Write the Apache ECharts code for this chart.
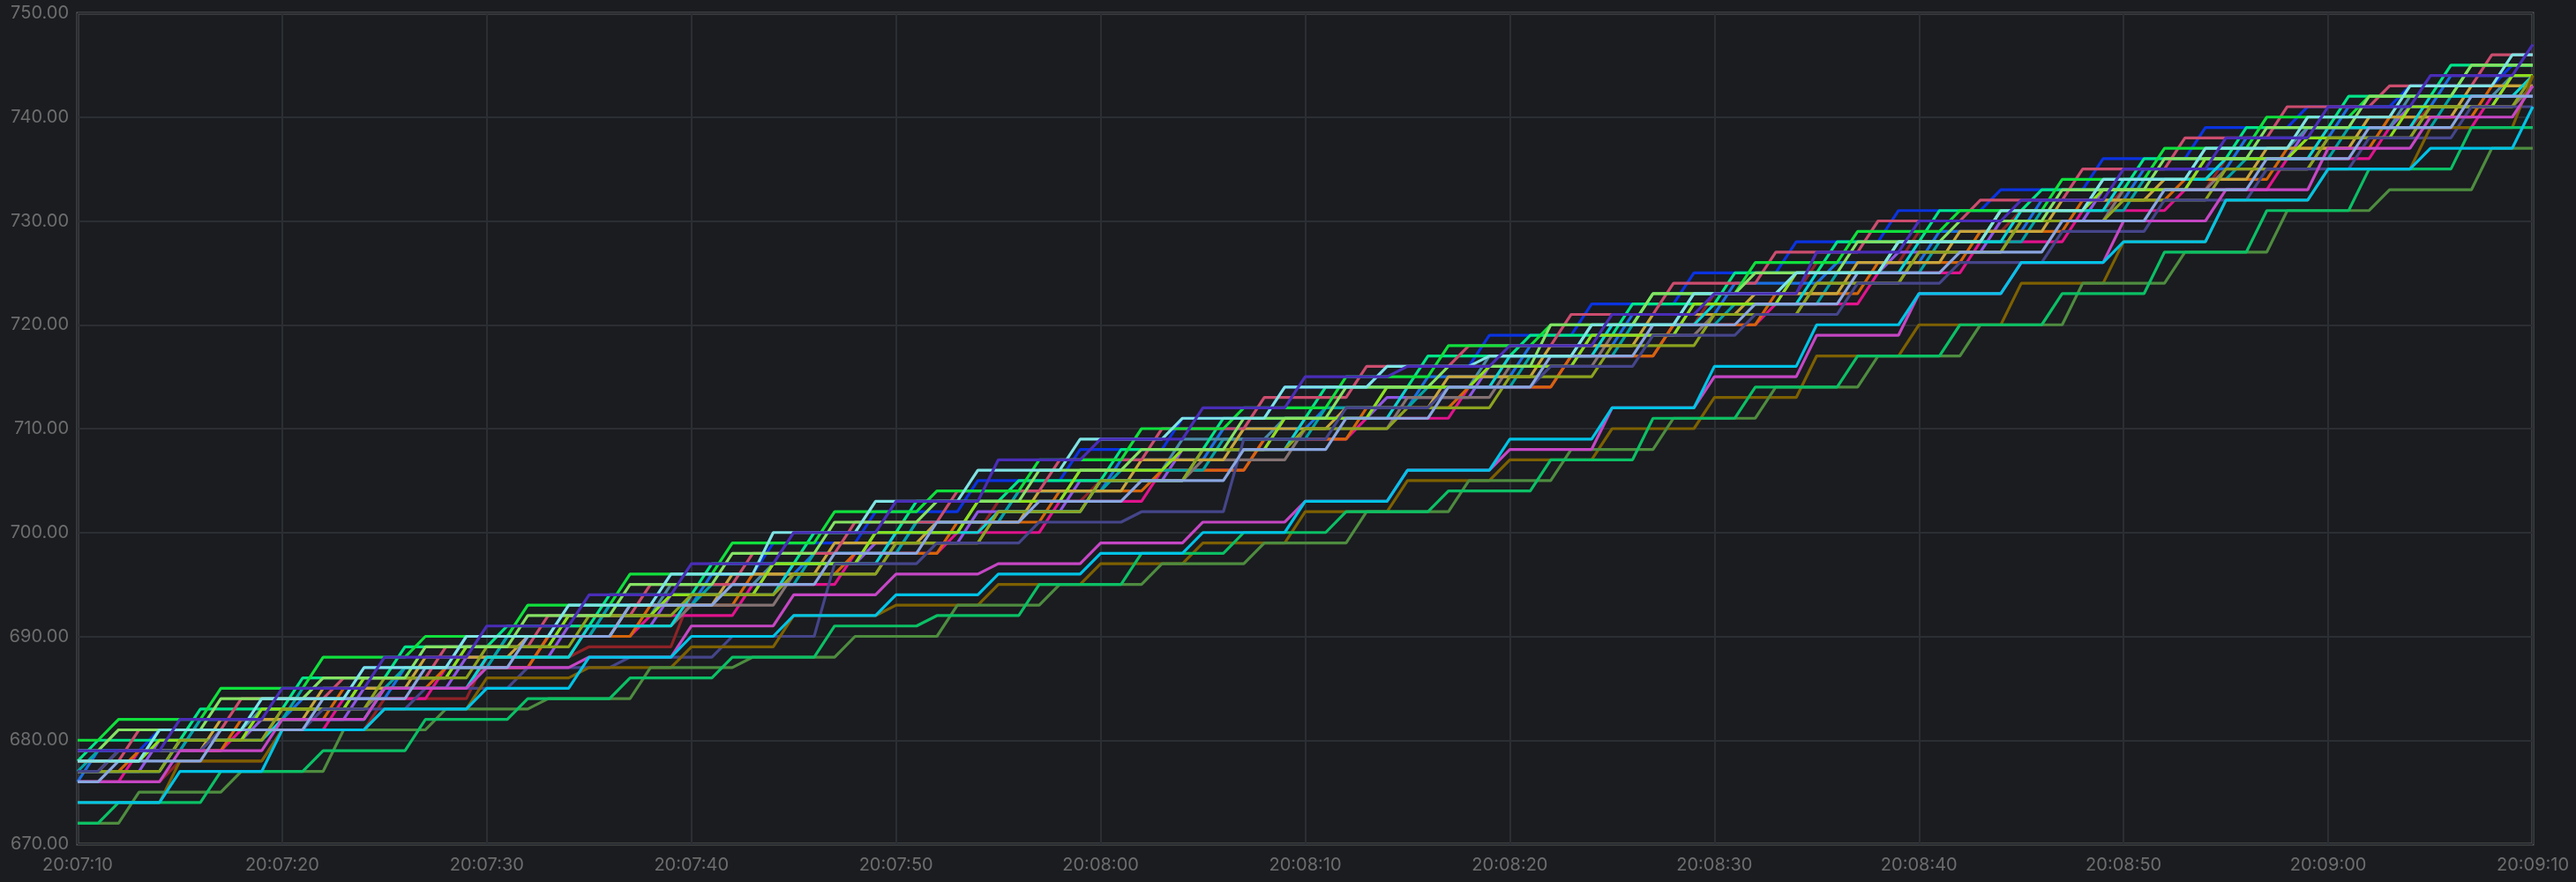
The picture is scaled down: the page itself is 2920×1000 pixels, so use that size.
<!DOCTYPE html>
<html>
<head>
<meta charset="utf-8">
<script src="https://cdn.jsdelivr.net/npm/echarts@6/dist/echarts.min.js"></script>
<style>
  html, body { margin: 0; padding: 0; background: #1a1c20; }
  #chart { width: 2920px; height: 1000px; }
</style>
</head>
<body>
<div id="chart"></div>
<script>
// x = seconds after 20:07:10, counter levels.
// every series holds a level for 5 s and climbs in 1 s;
// phase = second of the first climb, levels = one value per 5 s block
const startClock = [20, 7, 10];
const xTicks = [0, 10, 20, 30, 40, 50, 60, 70, 80, 90, 100, 110, 120];
const yTicks = [670, 680, 690, 700, 710, 720, 730, 740, 750];

const greenLevels = [672,674,677,679,682,684,686,688,691,692,695,698,700,702,704,707,711,714,717,720,723,727,731,735,739];
const darkGreenLevels = [672,675,677,681,683,684,687,688,690,693,695,697,699,702,705,708,711,714,717,720,724,727,731,733,737];
const brownLevels = [674,678,681,683,686,687,689,692,693,695,697,699,702,705,707,710,713,717,720,724,728,732,735,739,744];
const cyanLevels = [674,677,681,683,685,688,690,692,694,696,698,700,703,706,709,712,716,720,723,726,728,732,735,737,741];
const magentaLevels = [676,679,682,685,687,688,691,694,696,697,699,701,703,706,708,712,715,719,723,726,730,733,737,740,743];
const indigoLevels = [679,682,685,688,691,694,697,700,703,707,709,712,715,716,718,721,723,727,730,732,735,738,741,744,747];
const lavenderLevels = [676,678,681,684,687,690,693,695,698,701,703,705,708,711,714,717,720,722,725,727,730,733,736,739,742];
const slateLevels = [677,679,681,683,685,687,688,690,697,699,701,702,709,712,714,716,719,721,724,726,729,732,735,738,741];
const oliveLevels = [677,680,683,686,689,692,694,696,699,702,705,708,710,712,715,718,721,724,727,730,732,735,738,741,744];
const paleCyanLevels = [678,681,684,687,690,693,696,700,703,706,709,711,714,716,717,720,723,725,728,731,734,737,740,743,746];
const paleGreenLevels = [679,681,684,686,689,692,695,698,701,703,706,708,711,714,716,720,723,725,728,730,733,736,739,742,745];
const crimsonLevels = [678,681,684,686,689,692,695,698,701,704,707,710,713,716,718,721,724,727,730,732,735,738,741,743,746];
const limeLevels = [680,682,685,688,690,693,696,699,702,704,707,710,712,715,718,720,723,726,729,731,734,737,740,742,745];
const taupeLevels = [677,680,683,685,688,691,693,696,699,702,705,707,710,713,716,719,721,724,727,730,733,735,738,741,743];
const tealLevels = [677,679,682,685,687,690,693,695,698,701,704,706,709,712,714,717,720,722,725,728,731,734,736,739,742];
const orangeLevels = [677,679,682,685,687,690,693,696,698,701,704,706,709,712,714,717,720,723,726,729,732,734,737,740,743];
const yellowGreenLevels = [678,680,683,686,689,692,694,697,700,703,706,708,711,714,716,719,722,725,728,731,733,736,738,741,744];
const blueLevels = [676,679,682,684,687,690,693,696,698,701,704,707,710,712,715,718,721,724,726,729,732,735,738,741,744];
const violetLevels = [677,680,682,685,688,691,694,697,699,702,705,708,711,713,716,719,722,725,727,730,733,736,739,741,744];
const pinkLevels = [676,679,681,684,687,690,692,695,698,700,703,706,709,711,714,717,720,722,725,728,731,733,736,739,742];
const steelLevels = [678,681,683,686,689,692,695,697,700,703,706,709,711,714,717,720,723,725,728,731,734,737,739,742,744];
const goldLevels = [677,679,682,685,688,690,693,696,699,701,704,707,710,712,715,718,721,723,726,729,732,734,737,740,743];
const springLevels = [678,680,683,686,689,691,694,697,700,703,705,708,711,714,717,719,722,725,728,731,733,736,739,742,745];
const darkRedLevels = [676,678,681,684,688,689,694,697,700,703,705,708,711,714,717,720,723,726,729,731,733,736,739,741,743];
const royalLevels = [679,681,684,687,690,693,696,699,702,705,708,711,714,716,719,722,725,728,731,733,736,739,741,743,745];
const turquoiseLevels = [677,680,682,685,688,691,694,697,700,702,705,708,711,714,717,720,722,725,728,731,734,736,739,742,744];

const seriesList = [
  { color: '#8e2327', phase: 5, levels: darkRedLevels },
  { color: '#e0138c', phase: 3, levels: pinkLevels },
  { color: '#0a33e0', phase: 4, levels: royalLevels },
  { color: '#1a6fe0', phase: 1, levels: blueLevels },
  { color: '#8f55e3', phase: 4, levels: violetLevels },
  { color: '#d4650a', phase: 3, levels: orangeLevels },
  { color: '#00a3a3', phase: 1, levels: tealLevels },
  { color: '#847272', phase: 5, levels: taupeLevels },
  { color: '#4a89a6', phase: 4, levels: steelLevels },
  { color: '#c8a53c', phase: 2, levels: goldLevels },
  { color: '#00e58a', phase: 1, levels: springLevels },
  { color: '#0ad4d4', phase: 5, levels: turquoiseLevels },
  { color: '#8ee01c', phase: 4, levels: yellowGreenLevels },
  { color: '#cc4d6e', phase: 3, levels: crimsonLevels },
  { color: '#10e03c', phase: 2, levels: limeLevels },
  { color: '#8ca31f', phase: 5, levels: oliveLevels },
  { color: '#45458a', phase: 2, levels: slateLevels },
  { color: '#7d6000', phase: 5, levels: brownLevels },
  { color: '#4e8c3f', phase: 3, levels: darkGreenLevels },
  { color: '#0bc065', phase: 2, levels: greenLevels },
  { color: '#c546c4', phase: 5, levels: magentaLevels },
  { color: '#00c3e6', phase: 5, levels: cyanLevels },
  { color: '#86e264', phase: 2, levels: paleGreenLevels },
  { color: '#8aa6e0', phase: 2, levels: lavenderLevels },
  { color: '#7fe3e3', phase: 4, levels: paleCyanLevels },
  { color: '#4a2db8', phase: 5, levels: indigoLevels }
];

// turn block levels into [second, value] corner points
function toPoints(phase, levels) {
  const last = xTicks[xTicks.length - 1];
  const pts = [[0, levels[0]]];
  if (phase > 1) pts.push([phase - 1, levels[0]]);
  for (let i = 1; i < levels.length; i++) {
    const t = phase + 5 * (i - 1);
    if (t > last) break;
    pts.push([t, levels[i]]);
    const end = Math.min(t + 4, last);
    if (end > t) pts.push([end, levels[i]]);
  }
  return pts;
}

const pad = n => (n < 10 ? '0' : '') + n;
const clockLabel = sec => {
  const total = startClock[0] * 3600 + startClock[1] * 60 + startClock[2] + sec;
  return pad(Math.floor(total / 3600)) + ':' + pad(Math.floor(total / 60) % 60) + ':' + pad(total % 60);
};

const textGray = '#6d6d6d';
const gridGray = '#2b2e33';

const myChart = echarts.init(document.getElementById('chart'));
const option = {
  backgroundColor: '#1a1c20',
  animation: false,
  grid: {
    left: 88,
    right: 49,
    top: 15,
    bottom: 43,
    show: true,
    borderColor: '#5a5a5a',
    borderWidth: 3,
    backgroundColor: 'transparent'
  },
  xAxis: {
    type: 'value',
    min: xTicks[0],
    max: xTicks[xTicks.length - 1],
    interval: 10,
    axisLine: { show: false },
    axisTick: { show: false },
    splitLine: { show: true, lineStyle: { color: gridGray, width: 2 } },
    axisLabel: {
      color: textGray,
      fontSize: 20,
      fontFamily: 'Inter',
      margin: 14,
      formatter: v => clockLabel(v)
    }
  },
  yAxis: {
    type: 'value',
    min: yTicks[0],
    max: yTicks[yTicks.length - 1],
    interval: 10,
    axisLine: { show: false },
    axisTick: { show: false },
    splitLine: { show: true, lineStyle: { color: gridGray, width: 2 } },
    axisLabel: {
      color: textGray,
      fontSize: 20,
      fontFamily: 'Inter',
      margin: 10,
      formatter: v => v.toFixed(2)
    }
  },
  series: seriesList.map(s => ({
    type: 'line',
    data: toPoints(s.phase, s.levels),
    showSymbol: false,
    symbol: 'none',
    silent: true,
    lineStyle: { color: s.color, width: 3.2 },
    itemStyle: { color: s.color }
  }))
};
myChart.setOption(option);
</script>
</body>
</html>
